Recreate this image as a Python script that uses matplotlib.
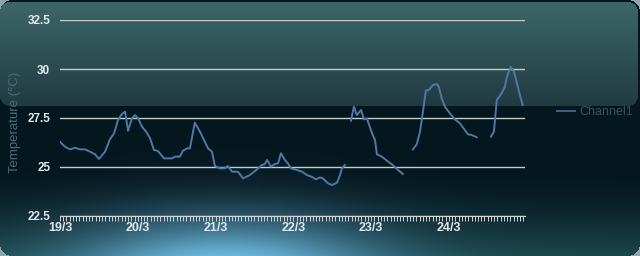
import numpy as np
import matplotlib
matplotlib.use('Agg')
import matplotlib.pyplot as plt
from matplotlib.colors import to_rgb
from matplotlib.ticker import MultipleLocator

plt.rcParams['font.family'] = ['Liberation Sans', 'DejaVu Sans']

# hours since 19/3 00:00, temperature in degC (nan = gap in the log)
hours = [0, 1.5, 3.1, 4.6, 6.2, 7.7, 9.3, 10.8, 12.0, 13.9, 15.4, 16.7, 17.9, 19.1,
         20.1, 21.0, 22.2, 23.1, 24.1, 25.3, 26.8, 27.8, 29.0, 30.2, 32.1, 34.6,
         35.5, 37.0, 37.9, 39.2, 40.1, 41.6, 43.2, 44.7, 45.7, 46.9, 47.8, 49.4,
         50.9, 51.8, 53.1, 54.9, 56.5, 58.6, 60.8, 62.3, 63.2, 63.9, 65.1, 66.3,
         67.3, 68.2, 69.4, 70.3, 71.3, 73.1, 74.7, 76.2, 77.7, 79.0, 80.2, 81.1,
         82.7, 83.9, 85.5, 86.4, 87.0, 87.9, 88.8,
         89.8, 90.7, 91.6, 92.9, 93.8, 94.7, 96.3, 97.2, 97.8, 99.3, 100.9, 102.7,
         104.3, 105.8, 107.3,
         108.9, 110.1, 111.1, 112.0, 112.9, 113.8, 115.1, 116.3, 116.9, 117.8,
         118.8, 120.3, 121.9, 123.4, 124.9, 125.9, 127.1, 128.6, 130.8,
         133.0, 133.9, 134.8, 136.3, 137.3, 137.9, 139.1, 140.1, 141.0, 142.2, 142.8]
temps = [26.29, 26.04, 25.9, 25.98, 25.9, 25.9, 25.78, 25.65, 25.41, 25.78, 26.41,
         26.72, 27.4, 27.7, 27.82, 26.85, 27.48, 27.65, 27.48, 27.06, 26.75, 26.46,
         25.87, 25.82, 25.44, 25.44, 25.53, 25.53, 25.82, 25.95, 25.95, 27.26, 26.8,
         26.29, 25.95, 25.78, 25.05, 24.93, 24.93, 25.05, 24.76, 24.76, 24.42, 24.59,
         24.88, 25.1, 25.15, 25.36, 25.02, 25.15, 25.19, 25.7, 25.36, 25.19, 24.93,
         24.85, 24.76, 24.59, 24.5, 24.37, 24.47, 24.42, 24.17, 24.08, 24.2, 24.59,
         24.93, 25.1, np.nan,
         27.36, 28.08, 27.65, 27.91, 27.43, 27.48, 26.72, 26.38, 25.65, 25.53, 25.32,
         25.1, 24.85, 24.64, np.nan,
         25.9, 26.16, 26.8, 27.82, 28.9, 28.93, 29.18, 29.23, 29.1, 28.5, 28.08,
         27.74, 27.43, 27.23, 26.89, 26.67, 26.63, 26.52, np.nan,
         26.55, 26.8, 28.42, 28.76, 29.1, 29.6, 30.11, 29.86, 29.27, 28.5, 28.16]
day_labels = ['19/3', '20/3', '21/3', '22/3', '23/3', '24/3']
y_ticks = [22.5, 25, 27.5, 30, 32.5]


def rounded_mask(xx, yy, x0, y0, x1, y1, r):
    cx = np.clip(xx, x0 + r, x1 - r)
    cy = np.clip(yy, y0 + r, y1 - r)
    return (xx - cx) ** 2 + (yy - cy) ** 2 <= r ** 2


def lerp(c0, c1, t):
    c0, c1 = np.array(to_rgb(c0)), np.array(to_rgb(c1))
    return c0 + (c1 - c0) * t[..., None]


# background panel: dark body, glossy top, soft glow at the bottom
W, H = 640, 256
yy, xx = np.mgrid[0:H, 0:W] + 0.5
img = lerp('#04161e', '#1c464d', np.clip((yy - 170) / 86, 0, 1) ** 1.5)
glow = np.exp(-(((xx - 225) / 150) ** 2 + ((yy - 280) / 62) ** 2))
img = img + glow[..., None] * np.array([0.36, 0.52, 0.66])
gloss = rounded_mask(xx, yy, 0, 2, 638, 106, 10)
img = np.where(gloss[..., None], lerp('#3d6769', '#213a42', np.clip((yy - 2) / 104, 0, 1)), img)
panel = rounded_mask(xx, yy, 0, 0, 640, 256, 12)
img = np.where(panel[..., None], img, np.array(to_rgb('#8fa5ad')))
img = np.clip(img, 0, 1)

fig = plt.figure(figsize=(6.4, 2.56), dpi=100)
bg = fig.add_axes([0, 0, 1, 1])
bg.imshow(img, extent=[0, W, H, 0], aspect='auto', interpolation='bilinear')
bg.axis('off')

ax = fig.add_axes([60 / 640, 40 / 256, 465 / 640, 196 / 256])
ax.patch.set_alpha(0)
line, = ax.plot(hours, temps, color='#4d79a8', lw=1.4, label='Channel1', zorder=3)
ax.set_xlim(0, 143.5)
ax.set_ylim(22.5, 32.5)

ax.set_yticks(y_ticks)
ax.set_yticklabels([f'{v:g}' for v in y_ticks])
ax.grid(axis='y', color='#c4cccc', lw=1.0)
ax.set_xticks(np.arange(len(day_labels)) * 24)
ax.set_xticklabels(day_labels)
ax.xaxis.set_minor_locator(MultipleLocator(1))

for s in ['top', 'right', 'left']:
    ax.spines[s].set_visible(False)
ax.spines['bottom'].set_color('#d0d6d6')
ax.spines['bottom'].set_linewidth(0.8)

ax.tick_params(axis='x', which='both', direction='out', length=3.5, width=0.7,
               color='#d0d6d6', pad=0.5, labelsize=9, labelcolor='#e2e8ea')
ax.tick_params(axis='y', length=0, pad=7, labelsize=8.5, labelcolor='#e2e8ea')
for t in ax.get_xticklabels() + ax.get_yticklabels():
    t.set_fontweight('bold')

fig.text(15 / 640, 1 - 122 / 256, 'Temperature (°C)', rotation=90, ha='center',
         va='center', color='#4b6d78', fontsize=9.5)

leg = ax.legend(loc='center left', bbox_to_anchor=(546 / 640, 1 - 112 / 256),
                bbox_transform=fig.transFigure, frameon=False, fontsize=9,
                handlelength=1.4, handletextpad=0.4, labelcolor='#34545f')
leg.get_lines()[0].set_color('#3e6088')

fig.savefig('out.png', dpi=100)
